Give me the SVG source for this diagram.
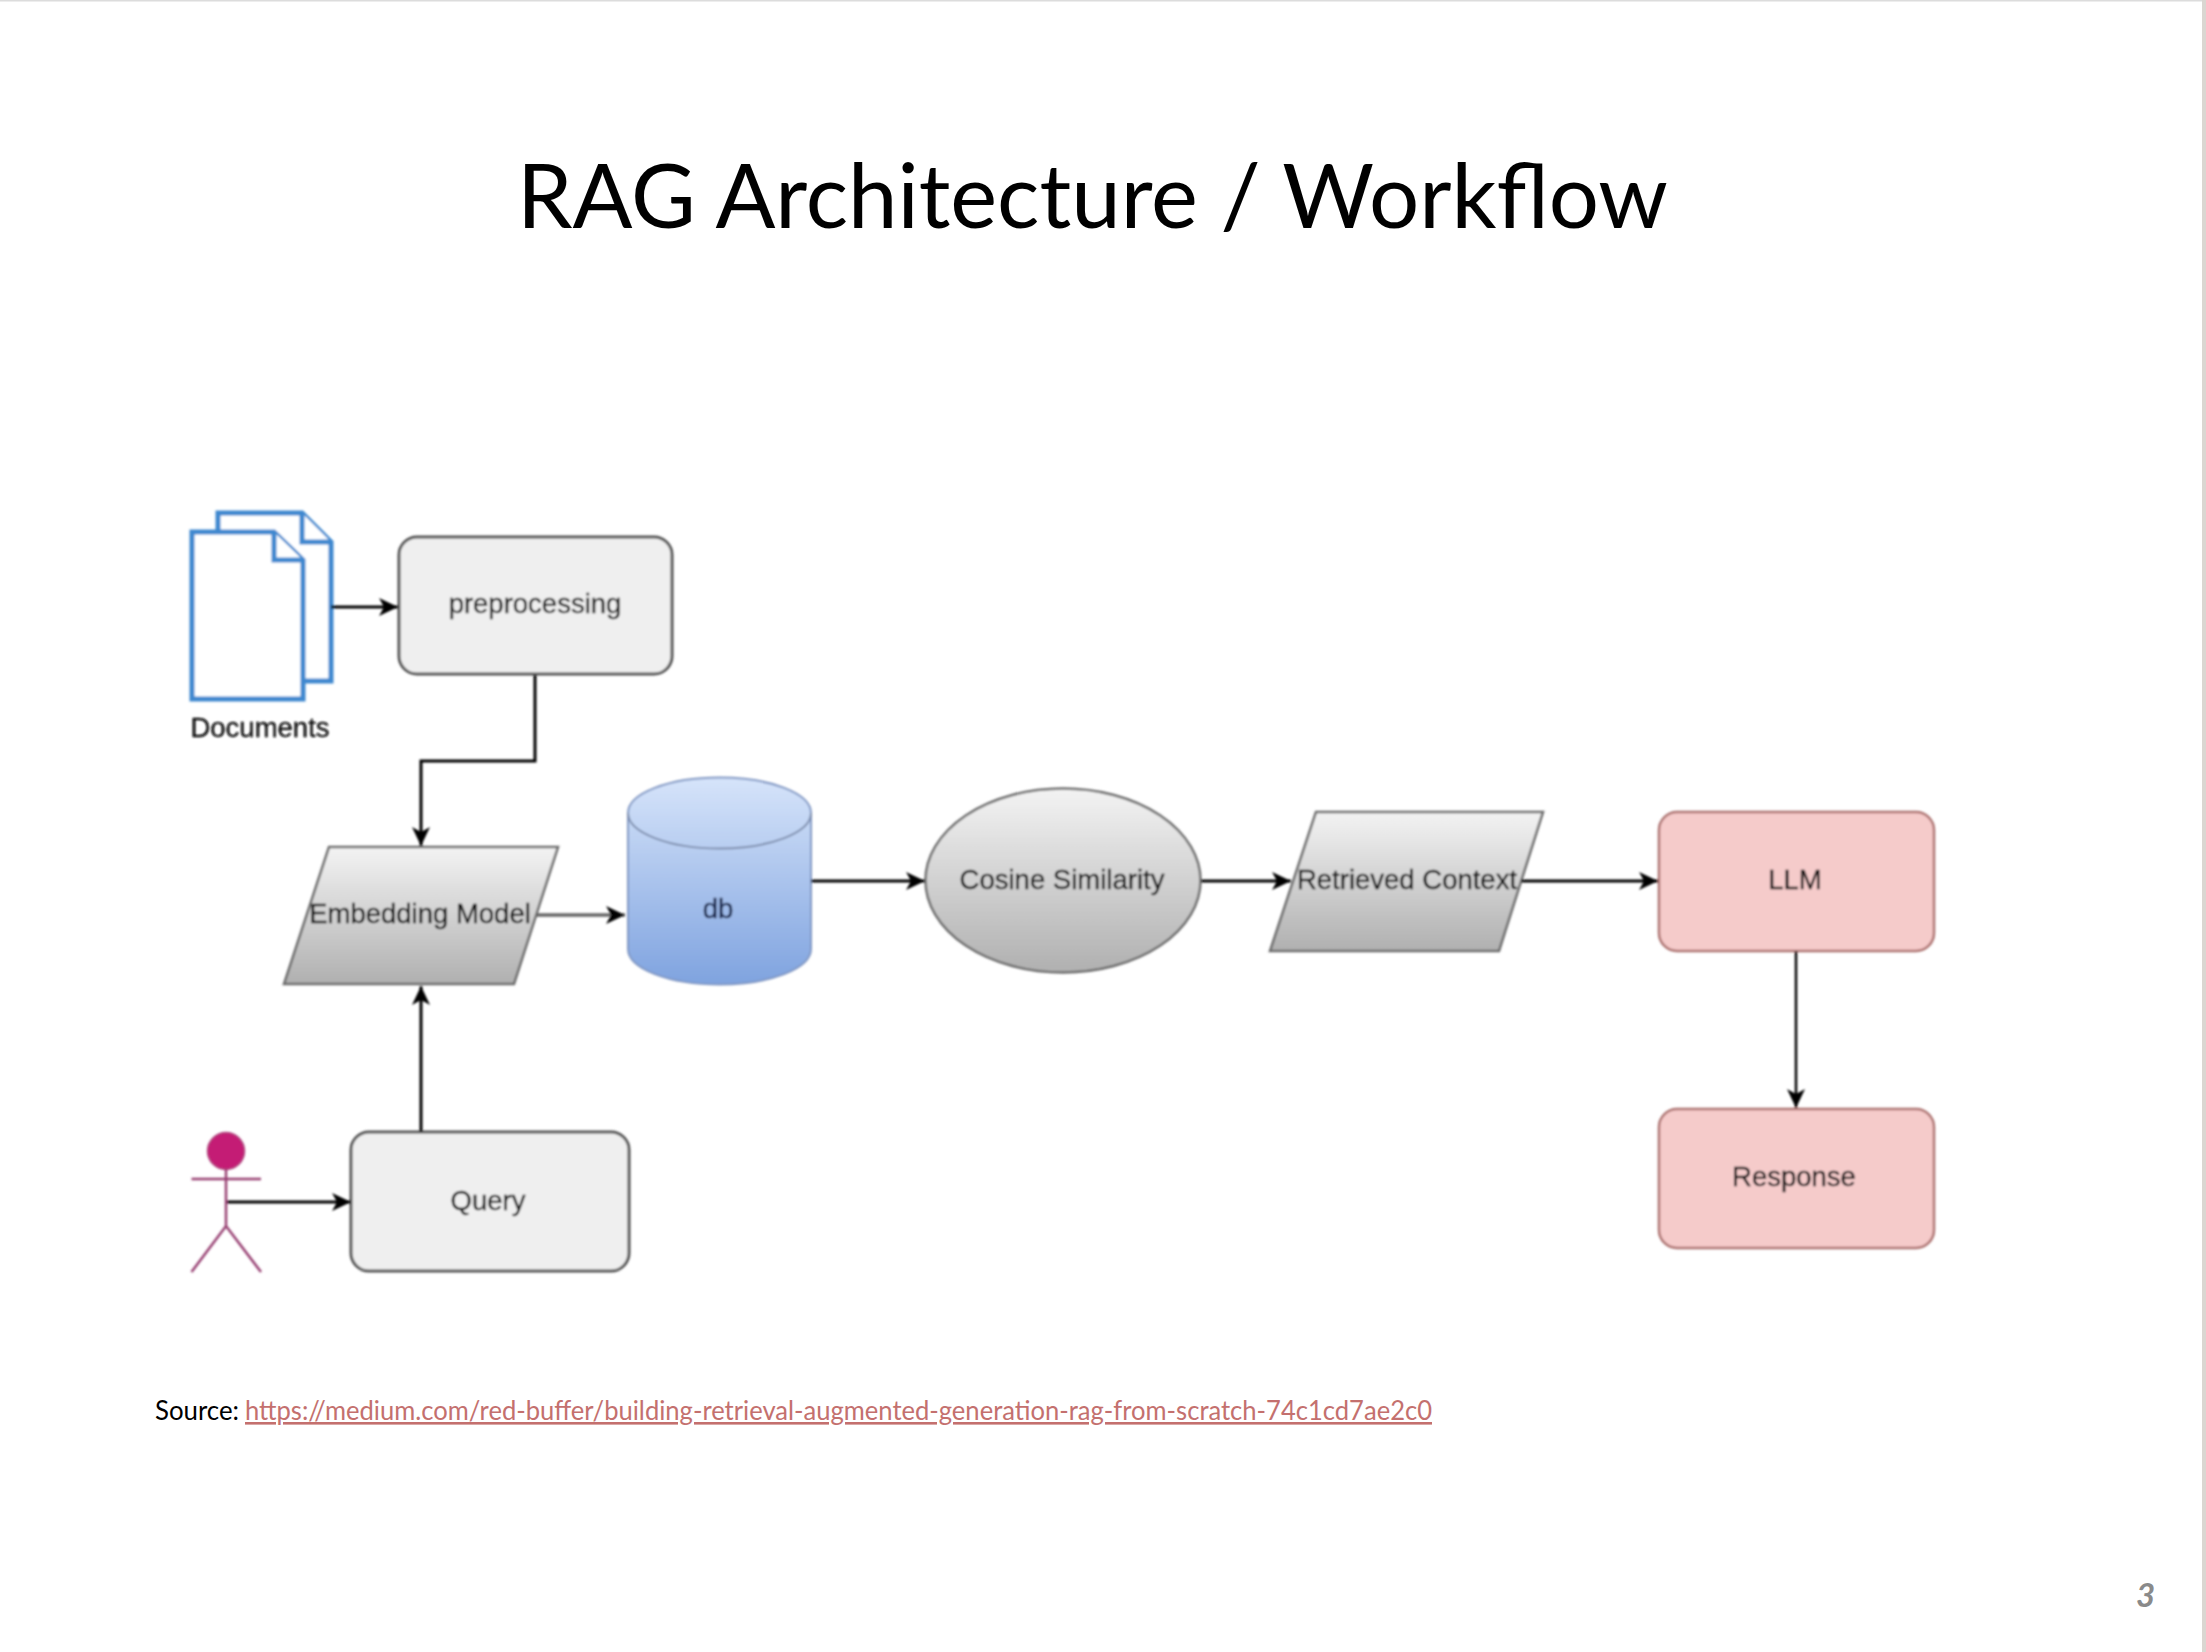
<svg xmlns="http://www.w3.org/2000/svg" width="2206" height="1652" viewBox="0 0 2206 1652">
<style>
.lbl{font-family:"Liberation Sans",Arial,sans-serif;font-size:27.500px;fill:#0c0c0c;text-anchor:middle;stroke:#0c0c0c;stroke-width:.3}
.box{fill:#efefef;stroke:#555;stroke-width:3}
.pink{fill:#f5cbca;stroke:#ad7270;stroke-width:2.500}
.grad{fill:url(#gray);stroke:#6c6c6c;stroke-width:2.500}
.edge{fill:none;stroke:#000;stroke-width:3;marker-end:url(#arr)}
.doc{fill:#fff;stroke:#3f88cf;stroke-width:5;stroke-linejoin:miter}
.act{fill:none;stroke:#973f72;stroke-width:2.500}
.slide{font-family:Lato,"Open Sans",sans-serif}
</style>
<defs>
<linearGradient id="gray" x1="0" y1="0" x2="0" y2="1"><stop offset="0" stop-color="#f3f3f3"/><stop offset="1" stop-color="#b0b0b0"/></linearGradient>
<linearGradient id="blue" x1="0" y1="0" x2="0" y2="1"><stop offset="0" stop-color="#d6e4fa"/><stop offset="1" stop-color="#7fa3df"/></linearGradient>
<marker id="arr" markerUnits="userSpaceOnUse" markerWidth="22" markerHeight="22" refX="20" refY="11" orient="auto"><path d="M1,2 L20,11 L1,20 L6,11 Z" fill="#000"/></marker>
<filter id="soft" x="-5%" y="-5%" width="110%" height="110%"><feGaussianBlur stdDeviation="0.8"/></filter>
</defs>
<rect width="2206" height="1652" fill="#fff"/>
<rect x="0" y="0" width="2206" height="1.500" fill="#dcdcdc"/>
<rect x="2202" y="0" width="4" height="1652" fill="#dad6d1"/>
<text id="title" class="slide" x="517" y="228" font-size="90" fill="#000" textLength="1151" lengthAdjust="spacingAndGlyphs">RAG Architecture / Workflow</text>
<g filter="url(#soft)">
<g id="documents">
<path class="doc" d="M218,532 V513 H302 L331,542 V681 H303"/>
<path class="doc" fill="none" d="M302,513 V542 H331"/>
<path class="doc" d="M192,532 H274 L303,560 V699 H192 Z"/>
<path class="doc" d="M274,532 V560 H303"/>
<text class="lbl" x="260" y="737">Documents</text>
</g>
<g id="preprocessing"><rect class="box" x="399" y="537" width="273" height="137" rx="18"/><text class="lbl" x="535" y="613">preprocessing</text></g>
<g id="embedding"><polygon class="grad" points="329,847 558,847 514,984 284,984"/><text class="lbl" x="420" y="923">Embedding Model</text></g>
<g id="db">
<path d="M628,813 A91.500,35.500 0 0 1 811,813 V949 A91.500,35.500 0 0 1 628,949 Z" fill="url(#blue)" stroke="#8198c4" stroke-width="2"/>
<path d="M628,813 A91.500,35.500 0 0 0 811,813" fill="none" stroke="#7f8fae" stroke-width="2"/>
<text class="lbl" x="718" y="918" style="fill:#14244a;stroke:#14244a">db</text>
</g>
<g id="cosine"><ellipse class="grad" cx="1063" cy="880.500" rx="137.500" ry="92"/><text class="lbl" x="1062" y="889">Cosine Similarity</text></g>
<g id="retrieved"><polygon class="grad" points="1316,812 1543,812 1499,951 1270,951"/><text class="lbl" x="1407" y="889">Retrieved Context</text></g>
<g id="llm"><rect class="pink" x="1659" y="812" width="275" height="139" rx="18"/><text class="lbl" x="1795" y="889">LLM</text></g>
<g id="response"><rect class="pink" x="1659" y="1109" width="275" height="139" rx="18"/><text class="lbl" x="1794" y="1186">Response</text></g>
<g id="query"><rect class="box" x="351" y="1132" width="278" height="139" rx="18"/><text class="lbl" x="488" y="1210">Query</text></g>
<g id="actor">
<ellipse cx="226" cy="1151" rx="18.500" ry="18.500" fill="#c41e74" stroke="#b0457f" stroke-width="1.500"/>
<path class="act" d="M226,1169 V1226 M191.500,1179 H261 M191.500,1272 L226,1226 L261,1272"/>
</g>
<g id="connectors">
<path class="edge" d="M331,607 H398"/>
<path class="edge" d="M535,675 V761 H421 V846"/>
<path class="edge" d="M536,915 H625" style="stroke:#666;stroke-width:3.500"/>
<path class="edge" d="M811,881 H925"/>
<path class="edge" d="M1201,881 H1291"/>
<path class="edge" d="M1521,881 H1658"/>
<path class="edge" d="M1796,951 V1108" style="stroke-width:2.500"/>
<path class="edge" d="M227,1202 H351"/>
<path class="edge" d="M421,1132 V986"/>
</g>
</g>
<text id="source" class="slide" x="155" y="1420" font-size="26" fill="#000" textLength="84" lengthAdjust="spacingAndGlyphs">Source:</text>
<text id="link" class="slide" x="245" y="1420" font-size="26" fill="#c4706e" text-decoration="underline" textLength="1187" lengthAdjust="spacingAndGlyphs">https://medium.com/red-buffer/building-retrieval-augmented-generation-rag-from-scratch-74c1cd7ae2c0</text>
<text id="page" class="slide" x="2136" y="1607" font-size="33" font-weight="700" font-style="italic" fill="#8a8a8a">3</text>
</svg>
